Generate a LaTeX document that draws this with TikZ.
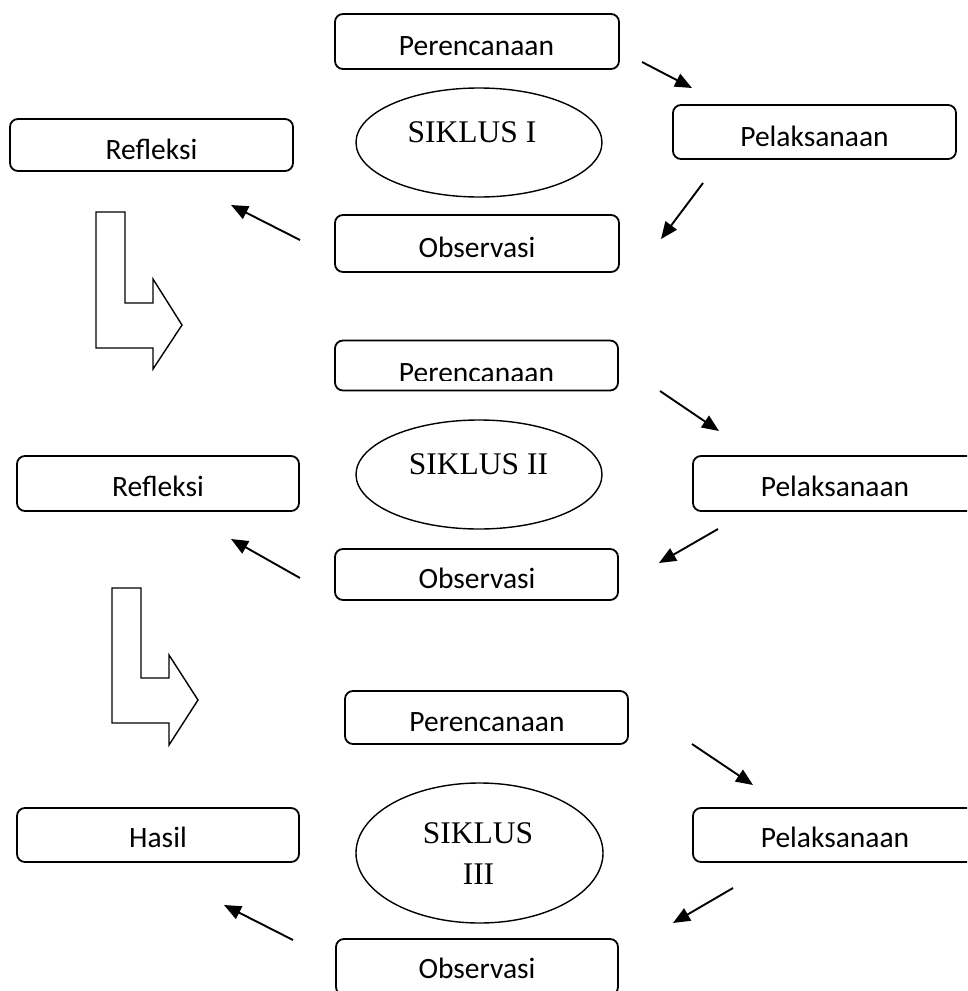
\documentclass[tikz,border=0pt]{standalone}
\usepackage{fontspec}
\setmainfont{Carlito}
\newfontfamily\serifx{Liberation Serif}
\usetikzlibrary{arrows.meta,shapes.geometric}
\tikzset{
  box/.style={draw, line width=1.8pt, rounded corners=8pt, inner sep=0pt},
  boxtext/.style={anchor=base, inner sep=0pt, font=\fontsize{29.5}{34}\selectfont},
  oval/.style={draw, ellipse, line width=1.4pt, inner sep=0pt},
  ovaltext/.style={anchor=base, inner sep=0pt, font=\serifx\fontsize{31.5}{41}\selectfont},
  arr/.style={line width=1.9pt, -{Triangle[length=17pt,width=14pt]}},
  blockarrow/.style={draw, line width=1.4pt, line join=miter}
}
\begin{document}
\begin{tikzpicture}[x=1pt,y=-1pt]
\clip (0,0) rectangle (967,991);
\useasboundingbox (0,0) rectangle (967,991);
\fill[white] (0,0) rectangle (967,991);

% ---------- Cycle I ----------
\node[box, minimum width=284pt, minimum height=55pt] (p1) at (477,41.5) {};
\node[boxtext] (p1t) at (476.5,55) {Perencanaan};
\node[box, minimum width=283pt, minimum height=54pt] (pel1) at (814.5,132) {};
\node[boxtext] (pel1t) at (814.5,146) {Pelaksanaan};
\node[box, minimum width=284pt, minimum height=57pt] (o1) at (477,243.5) {};
\node[boxtext] (o1t) at (477,257) {Observasi};
\node[box, minimum width=283pt, minimum height=52pt] (r1) at (151.5,145) {};
\node[boxtext] (r1t) at (151.5,159) {Refleksi};
\node[oval, minimum width=246pt, minimum height=109pt] (e1) at (479,142.5) {};
\node[ovaltext] (e1t) at (472,142) {SIKLUS I};

\coordinate (a1s) at (642,62);  \coordinate (a1e) at (692,88);
\coordinate (a2s) at (703,183); \coordinate (a2e) at (661,239);
\coordinate (a3s) at (300,240); \coordinate (a3e) at (231,205);
\draw[arr] (a1s) -- (a1e);
\draw[arr] (a2s) -- (a2e);
\draw[arr] (a3s) -- (a3e);

\draw[blockarrow] (96,212) -- (125,212) -- (125,303) -- (153,303) -- (153,279)
  -- (182,325) -- (153,369) -- (153,348) -- (96,348) -- cycle;

% ---------- Cycle II ----------
\node[box, minimum width=283pt, minimum height=50pt] (p2) at (476.5,365.5) {};
\begin{scope}
\clip (335,341) rectangle (618,380.5);
\node[boxtext] (p2t) at (476.5,382) {Perencanaan};
\end{scope}
\node[box, minimum width=284pt, minimum height=55pt] (pel2) at (835,483.5) {};
\node[boxtext] (pel2t) at (835,496) {Pelaksanaan};
\node[box, minimum width=283pt, minimum height=51pt] (o2) at (476.5,574.5) {};
\node[boxtext] (o2t) at (477,588) {Observasi};
\node[box, minimum width=282pt, minimum height=55pt] (r2) at (158,483.5) {};
\node[boxtext] (r2t) at (158,496) {Refleksi};
\node[oval, minimum width=246pt, minimum height=109pt] (e2) at (479,474.5) {};
\node[ovaltext] (e2t) at (478.5,474) {SIKLUS II};

\coordinate (b1s) at (660,391); \coordinate (b1e) at (719,431);
\coordinate (b2s) at (718,529); \coordinate (b2e) at (659,563);
\coordinate (b3s) at (300,578); \coordinate (b3e) at (231,539);
\draw[arr] (b1s) -- (b1e);
\draw[arr] (b2s) -- (b2e);
\draw[arr] (b3s) -- (b3e);

\draw[blockarrow] (112,588) -- (141,588) -- (141,678) -- (169,678) -- (169,655)
  -- (198,700) -- (169,745) -- (169,723) -- (112,723) -- cycle;

% ---------- Cycle III ----------
\node[box, minimum width=283pt, minimum height=53pt] (p3) at (486.5,717.5) {};
\node[boxtext] (p3t) at (487,731) {Perencanaan};
\node[box, minimum width=284pt, minimum height=54pt] (pel3) at (835,835) {};
\node[boxtext] (pel3t) at (835,847) {Pelaksanaan};
\node[box, minimum width=282pt, minimum height=56pt] (o3) at (477,967) {};
\node[boxtext] (o3t) at (477,978) {Observasi};
\node[box, minimum width=282pt, minimum height=54pt] (h3) at (158,835) {};
\node[boxtext] (h3t) at (158,847) {Hasil};
\node[oval, minimum width=247pt, minimum height=140pt] (e3) at (479.5,853) {};
\node[ovaltext] (e3ta) at (478,843) {SIKLUS};
\node[ovaltext] (e3tb) at (478.5,884) {III};

\coordinate (c1s) at (692,744); \coordinate (c1e) at (753,785);
\coordinate (c2s) at (733,888); \coordinate (c2e) at (673,923);
\coordinate (c3s) at (293,940); \coordinate (c3e) at (224,905);
\draw[arr] (c1s) -- (c1e);
\draw[arr] (c2s) -- (c2e);
\draw[arr] (c3s) -- (c3e);
\end{tikzpicture}
\end{document}
